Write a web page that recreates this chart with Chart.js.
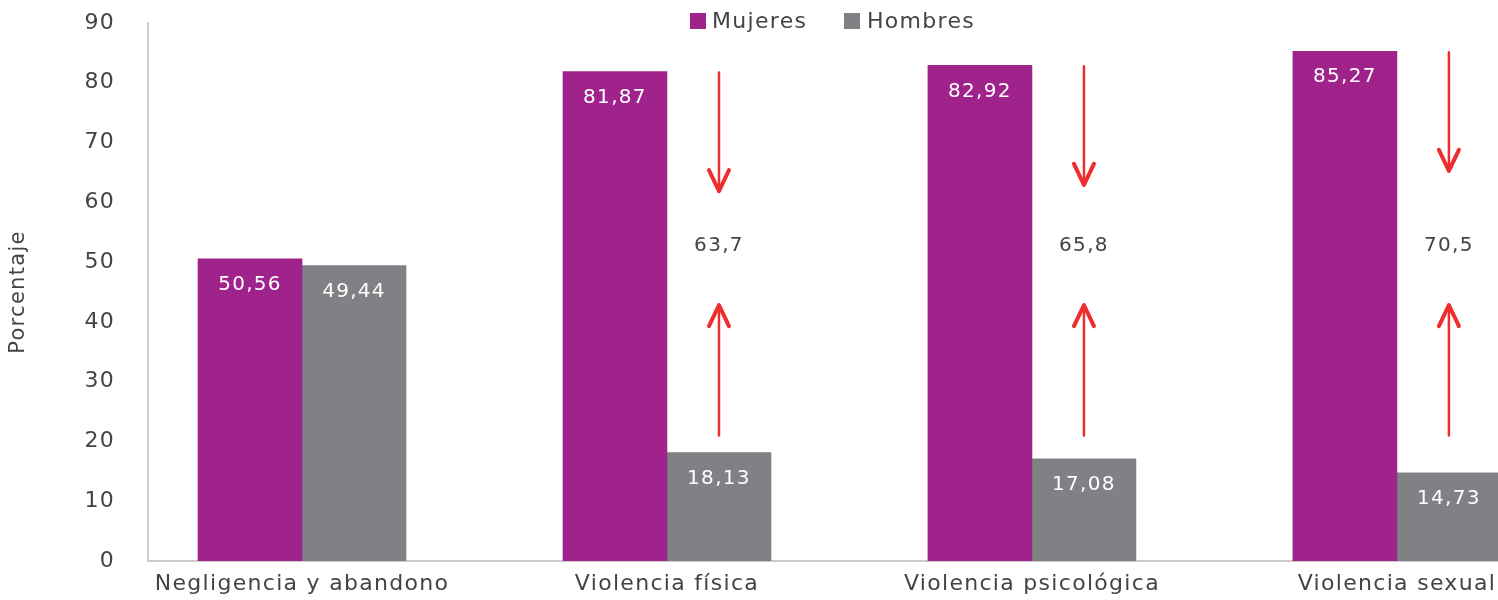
<!DOCTYPE html>
<html lang="es">
<head>
<meta charset="utf-8">
<title>Violencia por sexo</title>
<script src="https://cdn.jsdelivr.net/npm/chart.js@4.4.1/dist/chart.umd.min.js"></script>
<style>
  html, body { margin: 0; padding: 0; background: #fff; }
  #wrap { width: 1498px; height: 600px; position: relative; }
</style>
</head>
<body>
<div id="wrap"><canvas id="chart"></canvas></div>
<script>
const categories = ["Negligencia y abandono", "Violencia física", "Violencia psicológica", "Violencia sexual"];
const mujeres = [50.56, 81.87, 82.92, 85.27];
const hombres = [49.44, 18.13, 17.08, 14.73];
const brechas = [null, 63.7, 65.8, 70.5];
const yTicks = [0, 10, 20, 30, 40, 50, 60, 70, 80, 90];

const FONT = "'DejaVu Sans', 'Open Sans', sans-serif";
const textColor = "#434446";
const purple = "#A0228B";
const gray = "#808184";
const red = "#EE2E2E";
const fmt = v => String(v).replace(".", ",");

// letras algo más separadas, como en el original
const spacing = {
  id: "spacing",
  beforeUpdate(chart) { chart.ctx.letterSpacing = "1.3px"; },
  beforeDraw(chart) { chart.ctx.letterSpacing = "1.3px"; }
};

// etiquetas blancas dentro de las barras + flechas de brecha + leyenda
const extras = {
  id: "extras",
  afterDatasetsDraw(chart) {
    const { ctx, scales: { y } } = chart;
    ctx.save();
    ctx.font = "20px " + FONT;
    ctx.fillStyle = "#fff";
    ctx.textAlign = "center";
    ctx.textBaseline = "middle";
    chart.data.datasets.forEach((ds, di) => {
      chart.getDatasetMeta(di).data.forEach((bar, i) => {
        ctx.fillText(fmt(ds.data[i].y), bar.x, bar.y + 26);
      });
    });

    // flechas
    const hMeta = chart.getDatasetMeta(1);
    brechas.forEach((b, i) => {
      if (b == null) return;
      const ax = hMeta.data[i].x;
      const yTop = y.getPixelForValue(mujeres[i]) + 1;
      const yDownTip = y.getPixelForValue(mujeres[i] - 20);
      const yUpTip = y.getPixelForValue(42.8);
      const yBottom = y.getPixelForValue(21);
      const yText = y.getPixelForValue(52.8);

      ctx.strokeStyle = red;
      ctx.lineCap = "round";
      ctx.lineJoin = "round";
      ctx.lineWidth = 2.5;
      ctx.beginPath();
      ctx.moveTo(ax, yTop); ctx.lineTo(ax, yDownTip - 2);
      ctx.moveTo(ax, yBottom); ctx.lineTo(ax, yUpTip + 2);
      ctx.stroke();

      ctx.lineWidth = 4;
      ctx.beginPath();
      ctx.moveTo(ax - 10, yDownTip - 21); ctx.lineTo(ax, yDownTip); ctx.lineTo(ax + 10, yDownTip - 21);
      ctx.moveTo(ax - 10, yUpTip + 21); ctx.lineTo(ax, yUpTip); ctx.lineTo(ax + 10, yUpTip + 21);
      ctx.stroke();

      ctx.fillStyle = textColor;
      ctx.fillText(fmt(b), ax, yText);
    });

    // leyenda
    ctx.textAlign = "left";
    ctx.font = "22px " + FONT;
    ctx.fillStyle = purple;
    ctx.fillRect(690, 13, 16, 16);
    ctx.fillStyle = gray;
    ctx.fillRect(844, 13, 16, 16);
    ctx.fillStyle = textColor;
    ctx.fillText("Mujeres", 712, 22);
    ctx.fillText("Hombres", 867, 22);
    ctx.restore();
  }
};

new Chart(document.getElementById("chart"), {
  type: "bar",
  data: {
    datasets: [
      { label: "Mujeres", data: mujeres.map((v, i) => ({ x: i, y: v })), backgroundColor: purple },
      { label: "Hombres", data: hombres.map((v, i) => ({ x: i, y: v })), backgroundColor: gray }
    ]
  },
  options: {
    responsive: true,
    maintainAspectRatio: false,
    animation: false,
    barThickness: 104,
    layout: { padding: { top: 23, right: 0, left: 0, bottom: 0 } },
    plugins: {
      legend: { display: false },
      tooltip: { enabled: false }
    },
    scales: {
      x: {
        type: "linear",
        offset: false,
        min: -0.422,
        max: 3.277,
        grid: { display: false, drawTicks: false },
        border: { display: true, color: "#cbcbcb", width: 2 },
        afterBuildTicks: s => { s.ticks = categories.map((c, i) => ({ value: i })); },
        afterFit: s => { s.height = 39; s.paddingLeft = 0; s.paddingRight = 0; },
        ticks: {
          color: textColor,
          padding: 10,
          maxRotation: 0,
          autoSkip: false,
          font: { family: FONT, size: 22 },
          callback: v => categories[v]
        }
      },
      y: {
        min: 0,
        max: 90,
        grid: { display: false, drawTicks: false },
        border: { display: true, color: "#cbcbcb", width: 2 },
        afterBuildTicks: s => { s.ticks = yTicks.map(v => ({ value: v })); },
        afterFit: s => { s.width = 148; s.paddingTop = 0; s.paddingBottom = 0; },
        ticks: {
          color: textColor,
          padding: 33,
          font: { family: FONT, size: 22 }
        },
        title: {
          display: true,
          text: "Porcentaje",
          color: textColor,
          padding: { top: 6, bottom: 0 },
          font: { family: FONT, size: 21 }
        }
      }
    }
  },
  plugins: [spacing, extras]
});
</script>
</body>
</html>
